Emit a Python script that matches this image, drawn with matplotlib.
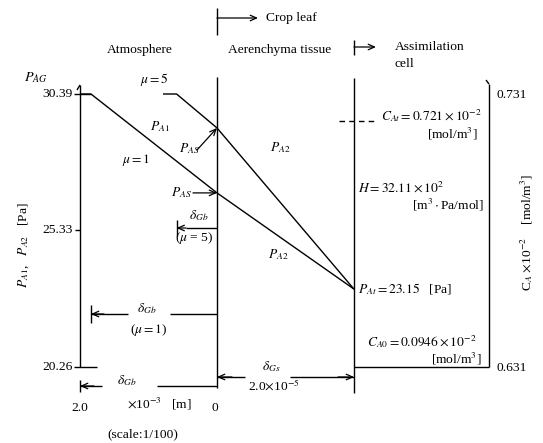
import matplotlib
matplotlib.use("Agg")
import matplotlib.pyplot as plt

plt.rcParams["font.family"] = ["Liberation Serif", "DejaVu Serif"]
plt.rcParams["mathtext.fontset"] = "stix"

# ---- values of the CO2 partial-pressure profile ----
pressure_ticks = [30.39, 25.33, 20.26]          # Pa, left axis
P_AG = 30.39                                     # ambient partial pressure
mu_values = [1, 5]
P_AS = [26.72, 29.13]                            # leaf-surface pressure for mu = 1, 5
delta_Gb = [1.84, 0.59]                          # boundary layer thickness (x10^-3 m) for mu = 1, 5
P_At = 23.15                                     # pressure at assimilation cell
delta_Gs = 2.0                                   # aerenchyma thickness (x10^-5 m, drawn at scale 1/100)
atm_width = 2.0                                  # atmosphere span shown (x10^-3 m)
conc_ticks = [0.731, 0.631]                      # right axis (x10^-2 mol/m^3)
C_At = 0.721

# ---- figure with a data frame spanning the whole canvas ----
W, H = 543, 443
fig = plt.figure(figsize=(W / 100, H / 100), dpi=100)
ax = fig.add_axes([0, 0, 1, 1])
ax.set_axis_off()

x0_px, kx = 217.0, 68.5          # x = 0 (leaf surface) and px per unit
y0_px, ky = 94.0, 26.95          # pressure 30.39 and px per Pa
ax.set_xlim(-x0_px / kx, (W - x0_px) / kx)
ax.set_ylim(P_AG - (H - y0_px) / ky, P_AG + y0_px / ky)


def pt(xp, yp):
    """layout helper: canvas pixel -> data coordinates"""
    return (xp - x0_px) / kx, P_AG - (yp - y0_px) / ky


def p_to_px(p):
    return y0_px + (P_AG - p) * ky


def conc_to_p(c):
    lo, hi = conc_ticks[1], conc_ticks[0]
    return pressure_ticks[2] + (c - lo) / (hi - lo) * (pressure_ticks[0] - pressure_ticks[2])


lw = 1.0
kw = dict(color="black", lw=lw, solid_capstyle="butt")
fs = 9.7


def txt(xp, yp, s, ha="left", va="center", size=fs, **k):
    x, y = pt(xp, yp)
    ax.text(x, y, s, ha=ha, va=va, fontsize=size, **k)


def arrow(p_from, p_to):
    ax.annotate("", xy=p_to, xytext=p_from,
                arrowprops=dict(arrowstyle="->,head_length=0.45,head_width=0.2",
                                lw=0.9, color="black", shrinkA=0, shrinkB=0))


xL = -atm_width
xR = delta_Gs
x_cell = pt(489, 0)[0]
p_lo, p_hi = pressure_ticks[2], pressure_ticks[0]

# left pressure axis
ax.plot([xL, xL], [p_lo, pt(0, 85)[1]], **kw)
ax.plot([xL, pt(77, 0)[0]], [pt(0, 85)[1], pt(0, 90)[1]], **kw)
tick_ext = [(74, 91), (75, 80), (74, 97)]
for p, (a, b) in zip(pressure_ticks, tick_ext):
    ax.plot([pt(a, 0)[0], pt(b, 0)[0]], [p, p], **kw)
for p in pressure_ticks:
    txt(73, p_to_px(p), f"{p:.2f}", ha="right")
txt(24, 78, r"$P_{AG}$", size=fs + 0.5)
txt(16, 245, r"$P_{A1}$,   $P_{A2}$   [Pa]", rotation=90)

# leaf surface and assimilation cell boundaries
ax.plot([0, 0], [pt(0, 388)[1], pt(0, 77)[1]], **kw)
ax.plot([xR, xR], [pt(0, 393)[1], pt(0, 78)[1]], **kw)
ax.plot([x_cell, x_cell], [p_lo, pt(0, 84)[1]], **kw)
ax.plot([x_cell, pt(486, 0)[0]], [pt(0, 84)[1], pt(0, 80)[1]], **kw)
ax.plot([xR, x_cell], [p_lo, p_lo], **kw)

# region markers at the top
ax.plot([0, 0], [pt(0, 8)[1], pt(0, 35)[1]], **kw)
arrow((0, pt(0, 18)[1]), (pt(258, 0)[0], pt(0, 18)[1]))
txt(266, 18, "Crop leaf")
ax.plot([xR, xR], [pt(0, 40)[1], pt(0, 55)[1]], **kw)
arrow((xR, pt(0, 47)[1]), (pt(376, 0)[0], pt(0, 47)[1]))
txt(395, 47, "Assimilation")
txt(395, 64, "cell")
txt(140, 50, "Atmosphere", ha="center")
txt(280, 50, "Aerenchyma tissue", ha="center")

# pressure profiles for mu = 1 and mu = 5
starts = [xL, pt(163, 0)[0]]
for d, ps, xs in zip(delta_Gb, P_AS, starts):
    ax.plot([xs, -d, 0, xR], [P_AG, P_AG, ps, P_At], **kw)

txt(140, 80, r"$\mu = 5$")
txt(122, 160, r"$\mu = 1$")
txt(150, 127, r"$P_{A1}$")
txt(179, 149, r"$P_{AS}$")
arrow(pt(197, 150), (0, P_AS[1]))
txt(171, 193, r"$P_{AS}$")
arrow((pt(193, 0)[0], P_AS[0]), (0, P_AS[0]))
txt(270, 148, r"$P_{A2}$")
txt(268, 255, r"$P_{A2}$")

# boundary layer thickness, mu = 5
yb5 = pt(0, 228)[1]
ax.plot([-delta_Gb[1]] * 2, [pt(0, 220)[1], pt(0, 236)[1]], **kw)
ax.plot([pt(186, 0)[0], 0], [yb5, yb5], **kw)
arrow((pt(186, 0)[0], yb5), (-delta_Gb[1], yb5))
txt(189, 216, r"$\delta_{Gb}$")
txt(175, 238, r"($\mu$ = 5)")

# boundary layer thickness, mu = 1
yb1 = pt(0, 314)[1]
ax.plot([-delta_Gb[0]] * 2, [pt(0, 305)[1], pt(0, 323)[1]], **kw)
ax.plot([-delta_Gb[0], pt(128, 0)[0]], [yb1, yb1], **kw)
ax.plot([pt(170, 0)[0], 0], [yb1, yb1], **kw)
arrow((pt(104, 0)[0], yb1), (-delta_Gb[0], yb1))
txt(137, 309, r"$\delta_{Gb}$")
txt(130, 330, r"($\mu = 1$)")

# atmosphere span scale
yb = pt(0, 386)[1]
ax.plot([xL, xL], [pt(0, 380)[1], pt(0, 392)[1]], **kw)
ax.plot([xL, pt(102, 0)[0]], [yb, yb], **kw)
ax.plot([pt(157, 0)[0], 0], [yb, yb], **kw)
arrow((pt(94, 0)[0], yb), (xL, yb))
txt(117, 381, r"$\delta_{Gb}$")
txt(80, 408, f"{atm_width:.1f}", ha="center")
txt(127, 404, r"$\times$10$^{-3}$   [m]")
txt(215, 408, "0", ha="center")
txt(143, 434, "(scale:1/100)", ha="center")

# aerenchyma thickness
ys = pt(0, 377)[1]
ax.plot([0, pt(245, 0)[0]], [ys, ys], **kw)
ax.plot([pt(290, 0)[0], xR], [ys, ys], **kw)
arrow((pt(232, 0)[0], ys), (0, ys))
arrow((pt(338, 0)[0], ys), (xR, ys))
txt(262, 367, r"$\delta_{Gs}$")
txt(248, 386, r"2.0$\times$10$^{-5}$")

# assimilation cell annotations
yc = conc_to_p(C_At)
ax.plot([pt(339, 0)[0], pt(374, 0)[0]], [yc, yc], color="black", lw=lw, dashes=(4, 3))
txt(381, 116, r"$C_{At} = 0.721\times10^{-2}$")
txt(478, 134, r"[mol/m$^3$]", ha="right")
txt(358, 187, r"$H = 32.11\times10^{2}$")
txt(484, 205, r"[m$^3\cdot$Pa/mol]", ha="right")
txt(358, 289, r"$P_{At} = 23.15$   [Pa]")
txt(367, 342, r"$C_{A0} = 0.0946\times10^{-2}$")
txt(482, 359, r"[mol/m$^3$]", ha="right")
for c in conc_ticks:
    txt(497, p_to_px(conc_to_p(c)) + 1, f"{c:.3f}")
txt(527, 232, r"C$_A$ $\times$10$^{-2}$    [mol/m$^3$]", ha="center", rotation=90)

fig.savefig("out.png", dpi=100)
